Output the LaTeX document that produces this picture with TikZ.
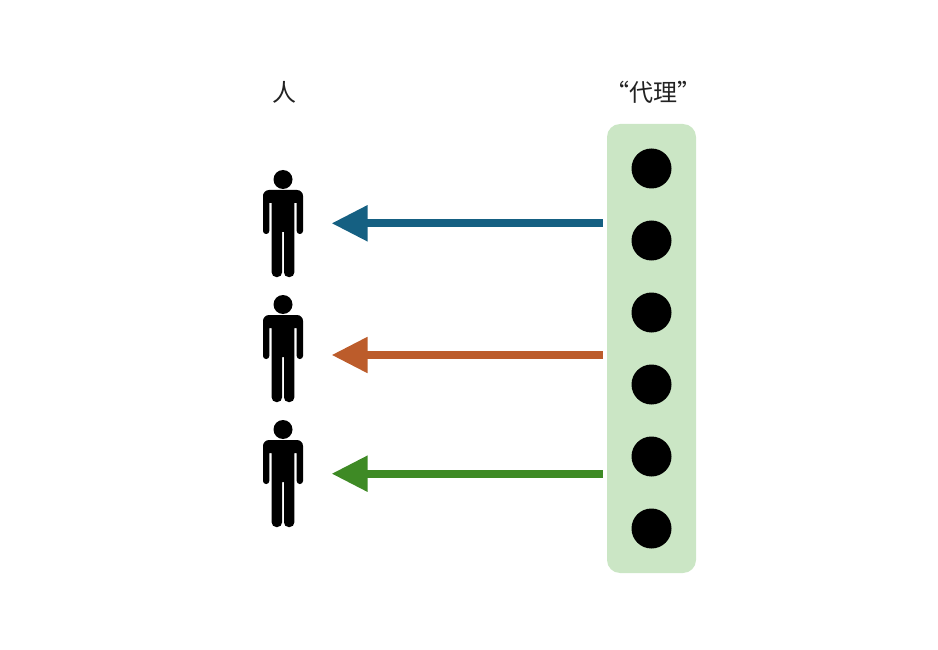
\documentclass[tikz,border=0pt]{standalone}
\usepackage{fontspec}
\usetikzlibrary{arrows.meta}
\setmainfont{Noto Sans CJK SC}
\definecolor{boxgreen}{HTML}{CBE6C5}
\definecolor{arrowblue}{HTML}{156082}
\definecolor{arroworange}{HTML}{BC5C2B}
\definecolor{arrowgreen}{HTML}{3E8A25}
\definecolor{labeltext}{HTML}{222222}
\tikzset{
  x=1pt,y=-1pt,
  pointer/.style={line width=8pt,-{Triangle[length=36pt,width=34pt,sep=-0.5pt]}},
  unit/.style={circle,fill=black,draw=none,minimum size=40pt,inner sep=0pt},
  headlabel/.style={text=labeltext,font=\fontsize{24pt}{27pt}\selectfont,inner sep=0pt},
  person/.pic={
    \fill[black] (0,-44) circle (9.5);
    \fill[black,rounded corners=3pt]
      (-20,-26) [rounded corners=6pt] -- (-20,-33.5) -- (20,-33.5) [rounded corners=3pt] -- (20,10.5) -- (13.7,10.5)
      [sharp corners] -- (13.7,-20.5) -- (11.3,-20.5) -- (11.3,8)
      [rounded corners=4.5pt] -- (11.3,53.5) -- (1,53.5) [sharp corners] -- (1,8.5) -- (-1,8.5)
      [rounded corners=4.5pt] -- (-1,53.5) -- (-11.3,53.5) [sharp corners] -- (-11.3,-20.5) -- (-13.7,-20.5)
      [rounded corners=3pt] -- (-13.7,10.5) -- (-20,10.5) -- cycle;
  }
}
\begin{document}
\begin{tikzpicture}
\useasboundingbox (0,0) rectangle (938,650);
\node[headlabel] (peoplelabel) at (284.5,92.5) {人};
\node[headlabel] (proxylabel) at (653.5,92.5) {“代理”};
\node[fill=boxgreen,rounded corners=13pt,minimum width=89pt,minimum height=449pt,inner sep=0pt] (panel) at (651.5,348.5) {};
\foreach \i/\yy in {1/168.5,2/240.5,3/312.5,4/384.5,5/456.5,6/528.5}
  \node[unit] (u\i) at (651.5,\yy) {};
\coordinate (p1) at (283,223.5);
\coordinate (p2) at (283,348.5);
\coordinate (p3) at (283,473.5);
\pic at (p1) {person};
\pic at (p2) {person};
\pic at (p3) {person};
\coordinate (s1) at (603,223.3);
\coordinate (s2) at (603,355);
\coordinate (s3) at (603,473.7);
\coordinate (t1) at (332,223.3);
\coordinate (t2) at (332,355);
\coordinate (t3) at (332,473.7);
\draw[pointer,arrowblue] (s1) -- (t1);
\draw[pointer,arroworange] (s2) -- (t2);
\draw[pointer,arrowgreen] (s3) -- (t3);
\end{tikzpicture}
\end{document}
